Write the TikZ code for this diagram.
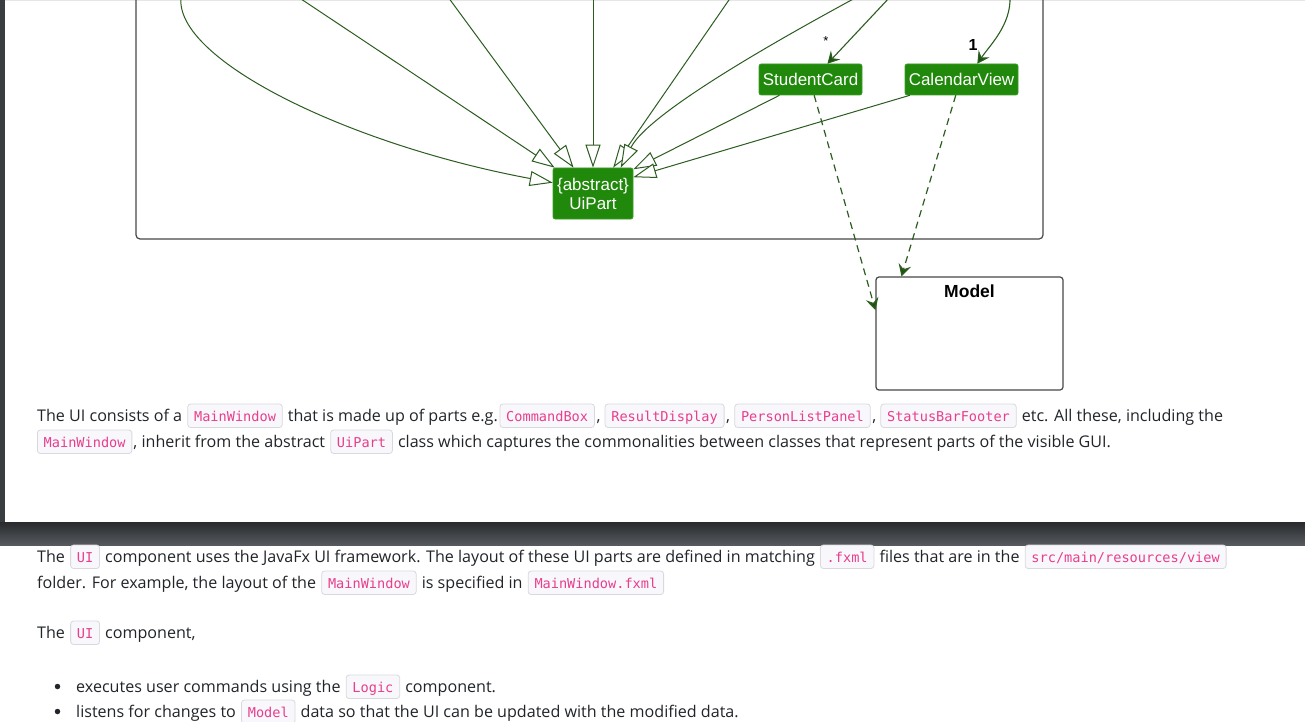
\documentclass[tikz,border=0pt]{standalone}
\usepackage{fontspec}
\setmainfont{Open Sans}
\newfontfamily\umlfont{Liberation Sans}
\newfontfamily\codefont{DejaVu Sans Mono}
\usetikzlibrary{arrows.meta}
\definecolor{umlgreen}{RGB}{32,136,10}
\definecolor{umlborder}{RGB}{60,160,40}
\definecolor{edgegreen}{RGB}{44,92,32}
\definecolor{headgreen}{RGB}{26,84,12}
\definecolor{pkgline}{RGB}{72,72,72}
\definecolor{codepink}{RGB}{232,62,140}
\definecolor{codebg}{RGB}{248,248,252}
\definecolor{codeborder}{RGB}{216,216,222}
\definecolor{bodytext}{RGB}{33,37,41}
\definecolor{bandtop}{RGB}{40,42,45}
\definecolor{bandbot}{RGB}{86,90,94}
\definecolor{stripgray}{RGB}{58,61,64}
\definecolor{edgeline}{RGB}{230,230,230}
\tikzset{
  cls/.style={fill=umlgreen, draw=umlborder, line width=0.6pt, rounded corners=2pt,
    text=white, font=\umlfont\fontsize{17}{20}\selectfont, inner sep=0pt, align=center},
  inh/.style={draw=edgegreen, line width=1pt,
    -{Triangle[length=23pt,width=15pt,fill=white]}},
  assoc/.style={draw=edgegreen, line width=1.1pt,
    -{Stealth[length=12pt,width=13pt,inset=4.5pt,fill=headgreen]}},
  dep/.style={assoc, line width=1.2pt, dash pattern=on 7pt off 5pt},
  pkg/.style={draw=pkgline, line width=1.2pt, rounded corners=4pt},
  modelbox/.style={draw=pkgline, line width=1.2pt, rounded corners=3pt,
    minimum width=187pt, minimum height=113pt, inner sep=0pt, fill=white},
  modeltitle/.style={font=\umlfont\bfseries\fontsize{17.5}{20}\selectfont, inner sep=0pt, text=black},
  mult/.style={font=\umlfont\fontsize{13}{15}\selectfont, inner sep=0pt, text=black},
  txt/.style={anchor=base west, inner sep=0pt, text=bodytext, font=\fontsize{16.1}{19}\selectfont},
  code/.style={anchor=base west, draw=codeborder, fill=codebg, line width=0.8pt,
    rounded corners=3pt, text=codepink, font=\codefont\fontsize{13.6}{16}\selectfont,
    inner xsep=6.3pt, inner ysep=0pt, text height=17pt, text depth=6.5pt},
  bul/.style={circle, fill=bodytext, minimum size=5.5pt, inner sep=0pt}
}
\begin{document}
\begin{tikzpicture}[x=1pt,y=-1pt]
\useasboundingbox (0,0) rectangle (1305,722);
\fill[white] (0,0) rectangle (1305,722);
% page chrome
\fill[stripgray] (0,0) rectangle (5,522);
\fill[edgeline] (5,0) rectangle (1305,1.5);
\shade[top color=bandtop, bottom color=bandbot] (0,522) rectangle (1305,545);

% UI package frame
\draw[pkg] (136,-20) rectangle (1043,239);

% classes
\node[cls, minimum width=80pt, minimum height=51pt] (ui) at (593,193.5)
  {\{abstract\}\\[-1pt]UiPart};
\node[cls, minimum width=103pt, minimum height=31pt] (sc) at (810.5,79.5) {StudentCard};
\node[cls, minimum width=113pt, minimum height=31pt] (cv) at (961.5,79.5) {CalendarView};
\node[modelbox] (model) at (969.5,333.5) {};
\node[modeltitle] (modeltitle) at (969.5,291) {Model};

% off-picture sources
\coordinate (sA) at (181,-3);
\coordinate (sB) at (298,-3);
\coordinate (sC) at (448,-3);
\coordinate (sD) at (593,-3);
\coordinate (sE) at (731,-3);
\coordinate (sF) at (857,-3);
\coordinate (sG) at (890,-3);
\coordinate (sH) at (1010,-3);

% inheritance
\draw[inh] (sA) .. controls (174,60) and (350,145) .. (ui.165);
\draw[inh] (sB) -- (ui.146);
\draw[inh] (sC) -- (ui.127);
\draw[inh] (sD) -- (ui.north);
\draw[inh] (sE) -- (ui.52);
\draw[inh] (sF) .. controls (800,28) and (650,110) .. (ui.43);
\draw[inh] (sc.207) -- (ui.31);
\draw[inh] (cv.197) -- (ui.22);

% associations
\draw[assoc] (sG) -- (sc.43);
\node[mult] (starlbl) at (826,41) {*};
\draw[assoc] (sH) .. controls (1011,25) and (990,45) .. (cv.45);
\node[mult, font=\umlfont\bfseries\fontsize{16}{18}\selectfont] (onelbl) at (973,45) {1};

% dependencies
\draw[dep] (sc.283) -- (model.166);
\draw[dep] (cv.250) -- (model.140);

% text block 1
\node[txt] (t1a) at (37,421) {The UI consists of a};
\node[code] (c1a) at ([xshift=5pt]t1a.base east) {MainWindow};
\node[txt] (t1b) at ([xshift=5pt]c1a.base east) {that is made up of parts e.g.};
\node[code] (c1b) at ([xshift=1.5pt]t1b.base east) {CommandBox};
\node[txt] (t1c) at ([xshift=1.5pt]c1b.base east) {,};
\node[code] (c1c) at ([xshift=4pt]t1c.base east) {ResultDisplay};
\node[txt] (t1d) at ([xshift=1.5pt]c1c.base east) {,};
\node[code] (c1d) at ([xshift=4pt]t1d.base east) {PersonListPanel};
\node[txt] (t1e) at ([xshift=1.5pt]c1d.base east) {,};
\node[code] (c1e) at ([xshift=4pt]t1e.base east) {StatusBarFooter};
\node[txt] (t1f) at ([xshift=5pt]c1e.base east) {etc. All these, including the};

\node[code] (c2a) at (37,447) {MainWindow};
\node[txt] (t2a) at ([xshift=1pt]c2a.base east) {, inherit from the abstract};
\node[code] (c2b) at ([xshift=5pt]t2a.base east) {UiPart};
\node[txt] (t2b) at ([xshift=5pt]c2b.base east) {class which captures the commonalities between classes that represent parts of the visible GUI.};

% text block 2
\node[txt] (t3a) at (37,562) {The};
\node[code] (c3a) at ([xshift=5pt]t3a.base east) {UI};
\node[txt] (t3b) at ([xshift=5pt]c3a.base east) {component uses the JavaFx UI framework. The layout of these UI parts are defined in matching};
\node[code] (c3b) at ([xshift=5pt]t3b.base east) {.fxml};
\node[txt] (t3c) at ([xshift=5pt]c3b.base east) {files that are in the};
\node[code] (c3c) at ([xshift=5pt]t3c.base east) {src/main/resources/view};

\node[txt] (t4a) at (37,588) {folder. For example, the layout of the};
\node[code] (c4a) at ([xshift=5pt]t4a.base east) {MainWindow};
\node[txt] (t4b) at ([xshift=5pt]c4a.base east) {is specified in};
\node[code] (c4b) at ([xshift=5pt]t4b.base east) {MainWindow.fxml};

\node[txt] (t5a) at (37,638) {The};
\node[code] (c5a) at ([xshift=5pt]t5a.base east) {UI};
\node[txt] (t5b) at ([xshift=5pt]c5a.base east) {component,};

\node[bul] (b6) at (57.5,686.5) {};
\node[txt] (t6a) at (76,692) {executes user commands using the};
\node[code] (c6a) at ([xshift=5pt]t6a.base east) {Logic};
\node[txt] (t6b) at ([xshift=5pt]c6a.base east) {component.};

\node[bul] (b7) at (57.5,711.5) {};
\node[txt] (t7a) at (76,717) {listens for changes to};
\node[code] (c7a) at ([xshift=5pt]t7a.base east) {Model};
\node[txt] (t7b) at ([xshift=5pt]c7a.base east) {data so that the UI can be updated with the modified data.};
\end{tikzpicture}
\end{document}
